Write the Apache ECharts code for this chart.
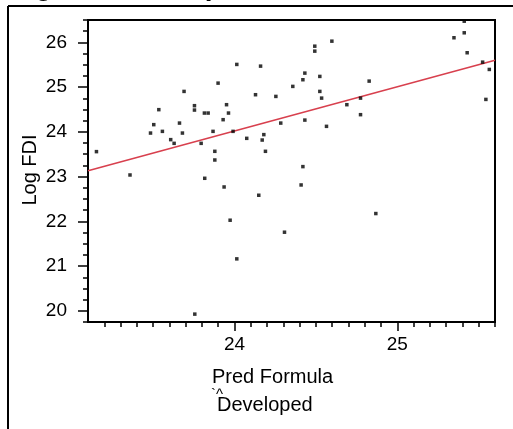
<!DOCTYPE html>
<html>
<head>
<meta charset="utf-8">
<script src="https://cdn.jsdelivr.net/npm/echarts@6/dist/echarts.min.js"></script>
<style>
html,body{margin:0;padding:0;background:#fff;}
#c{width:513px;height:429px;}
</style>
</head>
<body>
<div id="c"></div>
<script>
// ---- data ----
var predX = [23.152,23.690,23.899,23.535,23.754,23.754,23.815,23.838,23.930,23.504,
             23.662,23.484,23.557,23.680,23.868,23.608,23.629,23.795,23.879,23.879,
             24.014,24.160,24.598,24.493,24.493,24.432,24.420,24.524,24.358,24.129,
             24.254,24.524,24.535,24.690,24.774,24.774,23.951,23.963,23.991,24.284,
             24.432,24.565,24.075,24.180,24.170,24.190,24.420,25.411,25.411,25.348,
             25.429,25.524,25.565,25.544,24.827,23.358,23.817,23.936,23.756,24.409,
             24.149,23.973,24.307,24.014,24.868];
var logFDI = [23.558,24.904,25.089,24.496,24.585,24.487,24.420,24.420,24.272,24.161,
              24.196,23.973,24.011,23.973,24.011,23.826,23.743,23.743,23.565,23.371,
              25.507,25.469,26.027,25.915,25.804,25.313,25.165,25.239,25.016,24.830,
              24.792,24.904,24.754,24.607,24.754,24.384,24.607,24.420,24.011,24.196,
              24.263,24.123,23.855,23.938,23.817,23.565,23.223,26.473,26.214,26.103,
              25.768,25.558,25.395,24.725,25.134,23.036,22.962,22.768,19.926,22.813,
              22.583,22.025,21.757,21.161,22.174];
var fitLineX = [23.1, 25.6];
var fitLineY = [23.13, 25.60];
var xMajorTicks = [24, 25];
var xMinorTicks = [23.2,23.3,23.4,23.5,23.6,23.7,23.8,23.9,24.1,24.2,24.3,24.4,24.5,24.6,24.7,24.8,24.9,25.1,25.2,25.3,25.4,25.5,25.6];
var yMajorTicks = [20, 21, 22, 23, 24, 25, 26];
var yMinorTicks = [19.75,20.25,20.5,20.75,21.25,21.5,21.75,22.25,22.5,22.75,23.25,23.5,23.75,24.25,24.5,24.75,25.25,25.5,25.75,26.25,26.5];
var xTitle = 'Pred Formula';
var xTitle2 = 'Developed';
var yTitle = 'Log FDI';
var titleText = 'Log FDI Developed vs. Pred Formula, Log FDI by';

// ---- chart ----
var FONT = 'Arial, "Liberation Sans", sans-serif';
var chart = echarts.init(document.getElementById('c'), null, {renderer: 'canvas'});
var pts = predX.map(function (x, i) { return [x, logFDI[i]]; });
var line = fitLineX.map(function (x, i) { return [x, fitLineY[i]]; });

var axisCommon = {
  type: 'value', min: 23.1, max: 25.6, splitLine: {show: false}
};
chart.setOption({
  animation: false,
  backgroundColor: '#fff',
  grid: {left: 88, right: 18, top: 20, bottom: 107, show: true, borderColor: '#000', borderWidth: 2, containLabel: false},
  xAxis: [
    Object.assign({}, axisCommon, {
      position: 'bottom',
      axisLine: {show: true, lineStyle: {color: '#000', width: 2}},
      axisTick: {show: true, customValues: xMajorTicks, length: 9, lineStyle: {color: '#000', width: 1.5}},
      axisLabel: {show: true, customValues: xMajorTicks, margin: 13, fontSize: 19, color: '#000', fontFamily: FONT}
    }),
    Object.assign({}, axisCommon, {
      position: 'bottom', offset: 0,
      axisLine: {show: false},
      axisTick: {show: true, customValues: xMinorTicks, length: 5, lineStyle: {color: '#000', width: 1.5}},
      axisLabel: {show: false}
    })
  ],
  yAxis: [
    {
      type: 'value', min: 19.75, max: 26.5, position: 'left', splitLine: {show: false},
      axisLine: {show: true, lineStyle: {color: '#000', width: 2}},
      axisTick: {show: true, customValues: yMajorTicks, length: 10, lineStyle: {color: '#000', width: 1.5}},
      axisLabel: {show: true, customValues: yMajorTicks, margin: 21, fontSize: 19, color: '#000', fontFamily: FONT}
    },
    {
      type: 'value', min: 19.75, max: 26.5, position: 'left', offset: 0, splitLine: {show: false},
      axisLine: {show: false},
      axisTick: {show: true, customValues: yMinorTicks, length: 5, lineStyle: {color: '#000', width: 1.5}},
      axisLabel: {show: false}
    }
  ],
  series: [
    {
      type: 'line', data: line, xAxisIndex: 0, yAxisIndex: 0, symbol: 'none', silent: true,
      lineStyle: {color: '#d8404e', width: 1.6}, z: 3
    },
    {
      type: 'scatter', data: pts, xAxisIndex: 0, yAxisIndex: 0, symbol: 'rect', symbolSize: 3.5,
      itemStyle: {color: '#000'}, z: 4
    }
  ],
  graphic: [
    {type: 'line', shape: {x1: 8, y1: 6, x2: 8, y2: 429}, style: {stroke: '#000', lineWidth: 2}, silent: true},
    {type: 'line', shape: {x1: 8, y1: 6, x2: 513, y2: 6}, style: {stroke: '#000', lineWidth: 2}, silent: true},
    {type: 'text', left: 1, top: -27, style: {text: titleText, font: 'bold 28px ' + FONT, fill: '#000'}, silent: true},
    {type: 'text', x: 212, y: 377, style: {text: xTitle, font: '20px ' + FONT, fill: '#000', textVerticalAlign: 'middle', textAlign: 'left'}, silent: true},
    {type: 'text', x: 211, y: 395, style: {text: '`^', font: '15px ' + FONT, fill: '#000', textVerticalAlign: 'middle', textAlign: 'left'}, silent: true},
    {type: 'text', x: 217, y: 405, style: {text: xTitle2, font: '20px ' + FONT, fill: '#000', textVerticalAlign: 'middle', textAlign: 'left'}, silent: true},
    {type: 'text', x: 30, y: 170, rotation: Math.PI / 2, style: {text: yTitle, font: '20px ' + FONT, fill: '#000', textVerticalAlign: 'middle', textAlign: 'center'}, silent: true}
  ]
});
</script>
</body>
</html>
